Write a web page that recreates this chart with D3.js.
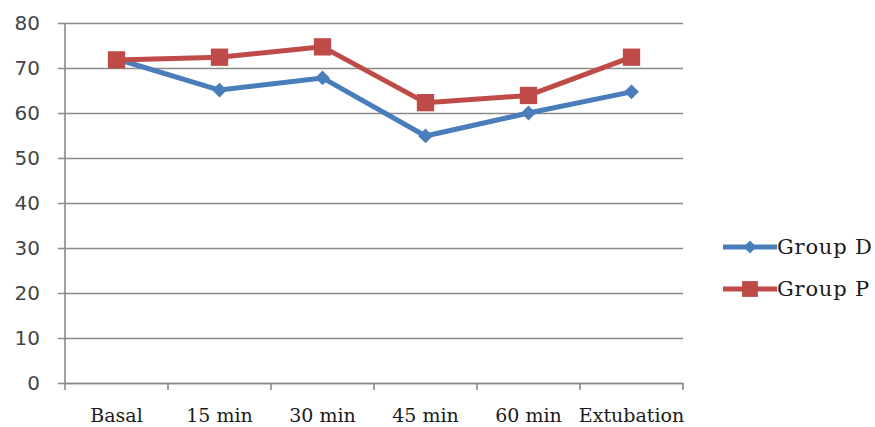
<!DOCTYPE html>
<html>
<head>
<meta charset="utf-8">
<script src="https://cdn.jsdelivr.net/npm/d3@7"></script>
<style>
  html, body { margin: 0; padding: 0; background: #fff; }
  svg { display: block; }
</style>
</head>
<body>
<svg id="chart" width="875" height="427"></svg>
<script>
const categories = ["Basal", "15 min", "30 min", "45 min", "60 min", "Extubation"];
const groupD = [72, 65.1, 67.8, 54.9, 60, 64.7];
const groupP = [71.8, 72.4, 74.7, 62.3, 63.9, 72.4];
const yTicks = [0, 10, 20, 30, 40, 50, 60, 70, 80];
const seriesNames = ["Group D", "Group P"];
const seriesColors = ["#4A7EBB", "#BE4B48"];

const svg = d3.select("#chart");
const plotL = 65, plotR = 683, plotT = 23, plotB = 383;

const x = d3.scaleBand().domain(categories).range([plotL, plotR]);
const y = d3.scaleLinear().domain([0, 80]).range([plotB, plotT]);

// gridlines (extending left as ticks)
svg.append("g")
  .attr("transform", `translate(${plotL - 7},0)`)
  .call(d3.axisRight(y).tickValues(yTicks).tickSize(plotR - plotL + 7).tickFormat(""))
  .call(g => g.select(".domain").remove())
  .call(g => g.selectAll("line").attr("stroke", "#8a8a8a").attr("stroke-width", 1.6));

// y labels
svg.append("g")
  .attr("transform", `translate(${plotL},0)`)
  .call(d3.axisLeft(y).tickValues(yTicks).tickSize(0).tickPadding(25))
  .call(g => g.select(".domain").remove())
  .call(g => g.selectAll("text")
    .attr("font-family", "DejaVu Sans, sans-serif")
    .attr("font-size", 20)
    .attr("fill", "#444"));

// y axis line
svg.append("line")
  .attr("x1", plotL).attr("x2", plotL).attr("y1", y(80)).attr("y2", y(0))
  .attr("stroke", "#8a8a8a").attr("stroke-width", 1.6);

// x axis labels
svg.append("g")
  .attr("transform", `translate(0,${plotB})`)
  .call(d3.axisBottom(x).tickSize(0).tickPadding(26))
  .call(g => g.select(".domain").attr("stroke", "#8a8a8a").attr("stroke-width", 1.6))
  .call(g => g.selectAll("text")
    .attr("font-family", "DejaVu Serif, serif")
    .attr("font-size", 19)
    .attr("fill", "#1a1a1a"));

// x boundary ticks
const bounds = categories.map(c => x(c)).concat([x(categories[categories.length - 1]) + x.bandwidth()]);
svg.append("g").selectAll("line").data(bounds).join("line")
  .attr("x1", d => d).attr("x2", d => d)
  .attr("y1", plotB).attr("y2", plotB + 7)
  .attr("stroke", "#8a8a8a").attr("stroke-width", 1.6);

const line = d3.line()
  .x((d, i) => x(categories[i]) + x.bandwidth() / 2)
  .y(d => y(d));

const diamond = d3.symbol().type(d3.symbolDiamond2).size(140);
const square = d3.symbol().type(d3.symbolSquare).size(300);

const data = [groupD, groupP];
const shapes = [diamond, square];

data.forEach((vals, si) => {
  svg.append("path")
    .datum(vals)
    .attr("d", line)
    .attr("fill", "none")
    .attr("stroke", seriesColors[si])
    .attr("stroke-width", 5)
    .attr("stroke-linejoin", "round");
  svg.append("g").selectAll("path").data(vals).join("path")
    .attr("transform", (d, i) => `translate(${x(categories[i]) + x.bandwidth() / 2},${y(d)})`)
    .attr("d", shapes[si]())
    .attr("fill", seriesColors[si]);
});

// legend
const legY = [247, 289];
seriesNames.forEach((name, si) => {
  const g = svg.append("g").attr("transform", `translate(723,${legY[si]})`);
  g.append("line").attr("x1", 0).attr("x2", 54).attr("y1", 0).attr("y2", 0)
    .attr("stroke", seriesColors[si]).attr("stroke-width", 5);
  g.append("path").attr("transform", "translate(27,0)")
    .attr("d", (si === 0 ? d3.symbol().type(d3.symbolDiamond2).size(110) : d3.symbol().type(d3.symbolSquare).size(250))())
    .attr("fill", seriesColors[si]);
  g.append("text").attr("x", 54).attr("y", 7)
    .attr("font-family", "DejaVu Serif, serif")
    .attr("font-size", 21)
    .attr("letter-spacing", 0.8)
    .attr("fill", "#1a1a1a")
    .text(name);
});
</script>
</body>
</html>
